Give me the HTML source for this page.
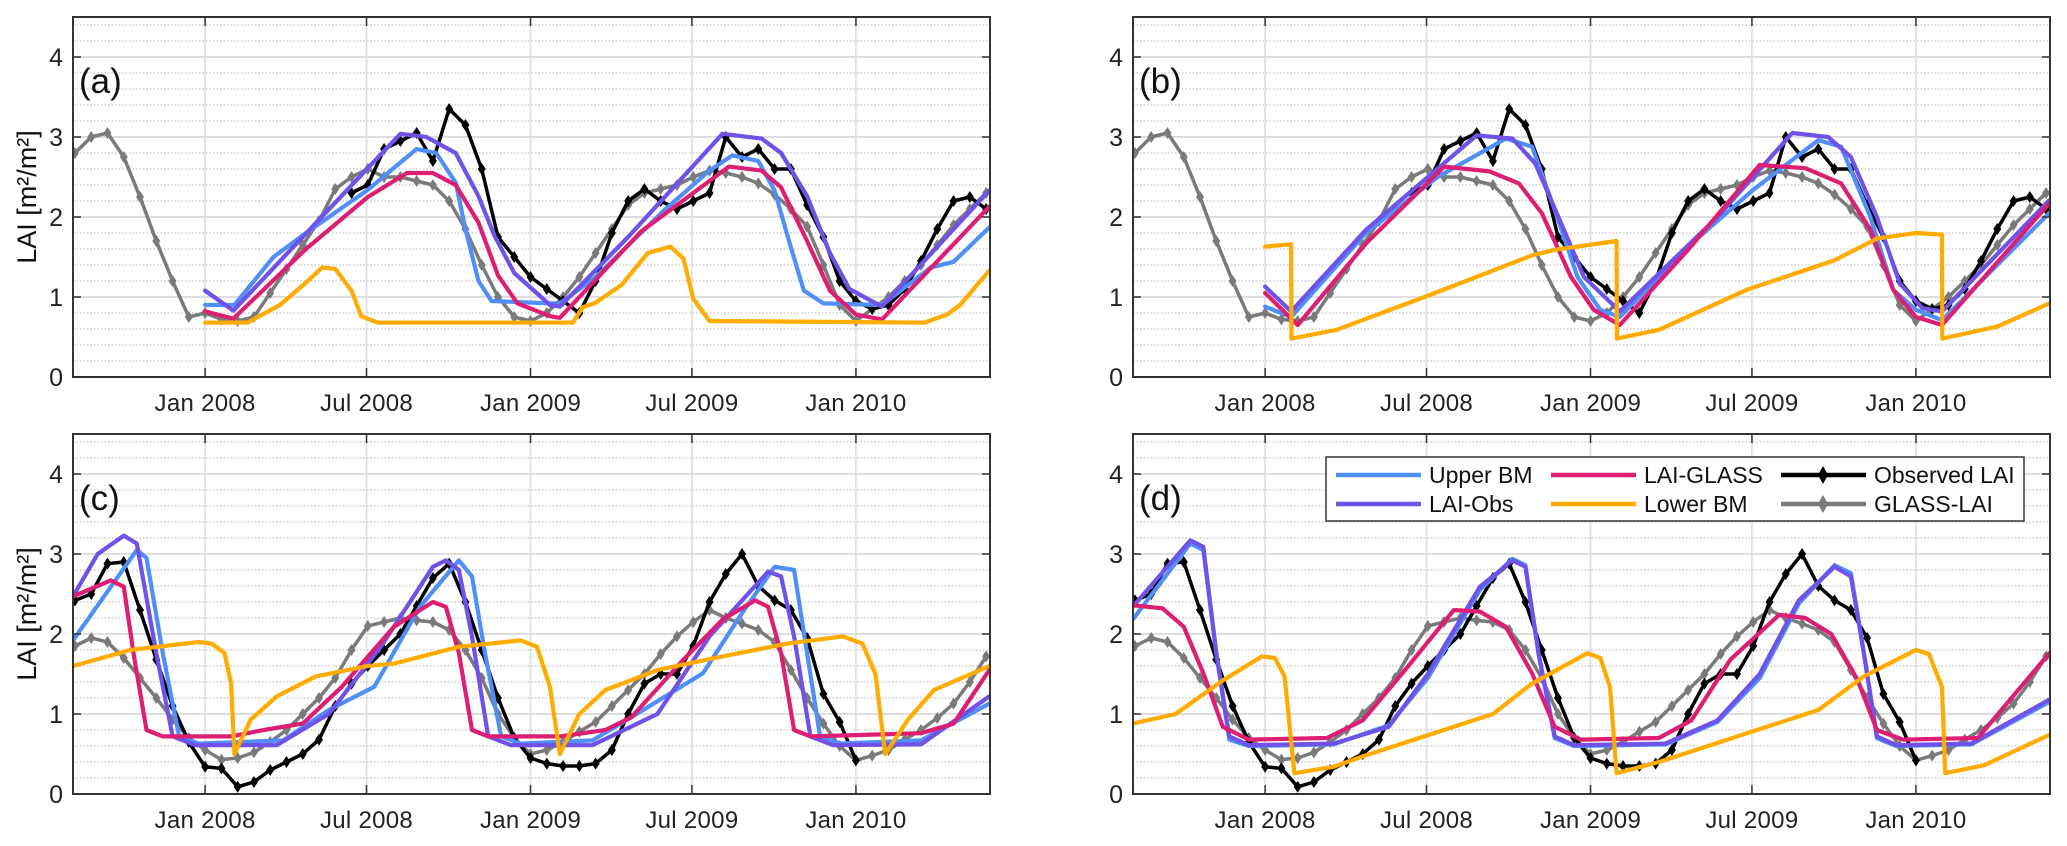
<!DOCTYPE html>
<html><head><meta charset="utf-8"><style>
html,body{margin:0;padding:0;background:#fff;}
svg{display:block;font-family:"Liberation Sans",Arial,sans-serif;}
</style></head><body>
<svg id="fig" width="2067" height="846" viewBox="0 0 2067 846" xmlns="http://www.w3.org/2000/svg"></svg>
<script>
// ---------- shared data ----------
const yTicks = [0,1,2,3,4];
const xTickDates = [2008.0, 2008.496, 2009.0, 2009.496, 2010.0];
const xTickLabels = ["Jan 2008","Jul 2008","Jan 2009","Jul 2009","Jan 2010"];
const panelLabels = ["(a)","(b)","(c)","(d)"];

// GLASS-LAI (site 1, panels a,b)
const glassTimesAB = [2007.60,2007.65,2007.70,2007.75,2007.80,2007.85,2007.90,2007.95,2008.00,2008.05,2008.10,2008.15,2008.20,2008.25,2008.30,2008.35,2008.40,2008.45,2008.50,2008.55,2008.60,2008.65,2008.70,2008.75,2008.80,2008.85,2008.90,2008.95,2009.00,2009.05,2009.10,2009.15,2009.20,2009.25,2009.30,2009.35,2009.40,2009.45,2009.50,2009.55,2009.60,2009.65,2009.70,2009.75,2009.80,2009.85,2009.90,2009.95,2010.00,2010.05,2010.10,2010.15,2010.20,2010.25,2010.30,2010.35,2010.40];
const glassAB = [2.8,3.0,3.05,2.75,2.25,1.7,1.2,0.75,0.8,0.72,0.7,0.75,1.05,1.35,1.65,1.95,2.35,2.5,2.6,2.5,2.5,2.45,2.4,2.2,1.85,1.4,1.0,0.75,0.7,0.8,1.0,1.25,1.55,1.85,2.15,2.3,2.35,2.4,2.5,2.58,2.55,2.5,2.42,2.28,2.1,1.88,1.4,0.9,0.7,0.85,1.0,1.2,1.4,1.65,1.9,2.1,2.3];
// Observed LAI (site 1)
const obsTimesAB = [2008.45,2008.50,2008.55,2008.60,2008.65,2008.70,2008.75,2008.80,2008.85,2008.90,2008.95,2009.00,2009.05,2009.10,2009.15,2009.20,2009.25,2009.30,2009.35,2009.40,2009.45,2009.50,2009.55,2009.60,2009.65,2009.70,2009.75,2009.80,2009.85,2009.90,2009.95,2010.00,2010.05,2010.10,2010.15,2010.20,2010.25,2010.30,2010.35,2010.40];
const obsAB = [2.3,2.4,2.85,2.95,3.05,2.7,3.35,3.15,2.6,1.75,1.5,1.25,1.1,0.95,0.8,1.2,1.8,2.2,2.35,2.2,2.1,2.2,2.3,3.0,2.75,2.85,2.6,2.6,2.15,1.75,1.2,0.95,0.85,0.9,1.1,1.45,1.85,2.2,2.25,2.1];
// GLASS-LAI (site 2, panels c,d)
const glassTimesCD = glassTimesAB;
const glassCD = [1.85,1.95,1.9,1.7,1.45,1.2,0.93,0.7,0.55,0.43,0.45,0.52,0.65,0.8,1.0,1.2,1.45,1.8,2.1,2.15,2.2,2.17,2.15,2.05,1.8,1.45,1.0,0.7,0.5,0.55,0.65,0.78,0.9,1.1,1.3,1.5,1.75,1.97,2.15,2.3,2.2,2.13,2.05,1.9,1.55,1.2,0.88,0.6,0.42,0.48,0.55,0.68,0.8,0.95,1.13,1.4,1.72];
const obsTimesCD = [2007.60,2007.65,2007.70,2007.75,2007.80,2007.85,2007.90,2007.95,2008.00,2008.05,2008.10,2008.15,2008.20,2008.25,2008.30,2008.35,2008.40,2008.45,2008.50,2008.55,2008.60,2008.65,2008.70,2008.75,2008.80,2008.85,2008.90,2008.95,2009.00,2009.05,2009.10,2009.15,2009.20,2009.25,2009.30,2009.35,2009.40,2009.45,2009.50,2009.55,2009.60,2009.65,2009.70,2009.75,2009.80,2009.85,2009.90,2009.95,2010.00];
const obsCD = [2.42,2.5,2.88,2.9,2.3,1.68,1.1,0.65,0.34,0.32,0.09,0.15,0.3,0.4,0.5,0.68,1.1,1.38,1.6,1.8,2.0,2.35,2.7,2.88,2.4,1.8,1.2,0.7,0.45,0.38,0.35,0.35,0.38,0.55,1.0,1.38,1.5,1.5,1.85,2.4,2.75,3.0,2.6,2.42,2.3,1.95,1.25,0.9,0.42];

// Panel (a) model runs
const upperTimesA = [2008.0,2008.09,2008.21,2008.31,2008.5,2008.65,2008.71,2008.77,2008.8,2008.84,2008.88,2009.06,2009.09,2009.2,2009.41,2009.55,2009.62,2009.7,2009.75,2009.8,2009.84,2009.9,2010.08,2010.23,2010.3,2010.41];
const upperA = [0.9,0.9,1.5,1.8,2.34,2.85,2.8,2.43,1.85,1.2,0.95,0.92,0.92,1.25,2.08,2.58,2.77,2.7,2.33,1.62,1.08,0.92,0.9,1.37,1.44,1.87];
const laiObsTimesA = [2008.0,2008.087,2008.3,2008.6,2008.68,2008.77,2008.84,2008.89,2008.95,2009.06,2009.09,2009.3,2009.59,2009.71,2009.77,2009.85,2009.92,2009.98,2010.08,2010.41];
const laiObsA = [1.08,0.83,1.75,3.04,3.0,2.8,2.26,1.76,1.3,0.9,0.88,1.75,3.04,2.98,2.8,2.26,1.55,1.1,0.88,2.33];
const laiGlassTimesA = [2008.0,2008.087,2008.31,2008.5,2008.62,2008.7,2008.77,2008.84,2008.9,2008.96,2009.06,2009.09,2009.34,2009.61,2009.71,2009.77,2009.85,2009.92,2010.0,2010.08,2010.41];
const laiGlassA = [0.82,0.73,1.6,2.25,2.55,2.55,2.4,1.93,1.27,0.92,0.76,0.74,1.82,2.63,2.58,2.37,1.7,1.08,0.78,0.72,2.13];
const lowerTimesA = [2008.0,2008.13,2008.23,2008.31,2008.36,2008.4,2008.45,2008.48,2008.53,2009.13,2009.16,2009.2,2009.28,2009.36,2009.43,2009.47,2009.5,2009.55,2010.21,2010.28,2010.32,2010.41];
const lowerA = [0.68,0.68,0.9,1.18,1.37,1.35,1.08,0.76,0.68,0.68,0.87,0.93,1.15,1.55,1.63,1.48,0.98,0.7,0.68,0.78,0.9,1.33];

// Panel (b)
const upperTimesB = [2008.0,2008.08,2008.31,2008.53,2008.74,2008.82,2008.89,2008.96,2009.03,2009.09,2009.3,2009.5,2009.7,2009.77,2009.86,2009.93,2010.0,2010.08,2010.41];
const upperB = [0.88,0.75,1.8,2.5,2.98,2.88,2.09,1.25,0.84,0.75,1.63,2.34,2.96,2.88,2.0,1.09,0.84,0.71,2.05];
const laiObsTimesB = [2008.0,2008.08,2008.31,2008.65,2008.76,2008.83,2008.91,2008.98,2009.09,2009.39,2009.62,2009.73,2009.8,2009.88,2009.95,2010.02,2010.08,2010.41];
const laiObsB = [1.13,0.82,1.84,3.02,2.98,2.67,1.92,1.25,0.82,2.0,3.05,3.0,2.75,2.0,1.17,0.86,0.82,2.21];
const laiGlassTimesB = [2008.0,2008.1,2008.31,2008.55,2008.69,2008.78,2008.85,2008.94,2009.01,2009.09,2009.3,2009.52,2009.66,2009.77,2009.86,2009.93,2010.0,2010.08,2010.41];
const laiGlassB = [1.05,0.65,1.67,2.63,2.57,2.42,2.05,1.25,0.84,0.65,1.59,2.65,2.61,2.42,1.84,1.09,0.75,0.65,2.17];
const lowerTimesB = [2008.0,2008.08,2008.081,2008.22,2008.49,2008.82,2008.89,2009.08,2009.081,2009.21,2009.48,2009.75,2009.88,2010.0,2010.08,2010.081,2010.25,2010.41];
const lowerB = [1.63,1.66,0.48,0.59,1.0,1.52,1.59,1.7,0.48,0.59,1.09,1.46,1.73,1.8,1.78,0.48,0.63,0.92];

// Panel (c)
const upperTimesC = [2007.594,2007.79,2007.82,2007.87,2007.92,2007.98,2008.24,2008.38,2008.52,2008.66,2008.78,2008.82,2008.86,2008.91,2008.97,2009.19,2009.31,2009.53,2009.65,2009.75,2009.81,2009.85,2009.89,2009.95,2010.2,2010.41];
const upperC = [1.92,3.05,2.95,1.76,0.72,0.63,0.67,1.05,1.34,2.34,2.92,2.72,1.76,0.72,0.63,0.67,0.96,1.51,2.26,2.84,2.8,1.76,0.72,0.63,0.67,1.13];
const laiObsTimesC = [2007.594,2007.67,2007.75,2007.79,2007.85,2007.9,2007.97,2008.22,2008.38,2008.54,2008.7,2008.74,2008.78,2008.82,2008.87,2008.94,2009.19,2009.39,2009.55,2009.73,2009.77,2009.81,2009.86,2009.93,2010.2,2010.41];
const laiObsC = [2.47,3.0,3.23,3.13,1.76,0.72,0.61,0.61,1.0,1.84,2.84,2.92,2.8,1.97,0.72,0.61,0.61,1.0,1.97,2.78,2.72,1.97,0.72,0.61,0.62,1.22];
const laiGlassTimesC = [2007.594,2007.71,2007.75,2007.78,2007.82,2007.87,2008.08,2008.18,2008.3,2008.42,2008.58,2008.7,2008.74,2008.78,2008.82,2008.87,2009.09,2009.23,2009.31,2009.47,2009.59,2009.69,2009.73,2009.77,2009.81,2009.86,2010.2,2010.3,2010.41];
const laiGlassC = [2.47,2.67,2.59,1.76,0.8,0.72,0.72,0.8,0.88,1.34,2.09,2.4,2.34,1.76,0.8,0.72,0.72,0.8,0.96,1.68,2.18,2.42,2.34,1.76,0.8,0.72,0.76,0.88,1.55];
const lowerTimesC = [2007.594,2007.77,2007.98,2008.02,2008.06,2008.08,2008.09,2008.14,2008.22,2008.34,2008.5,2008.58,2008.78,2008.97,2009.02,2009.06,2009.09,2009.15,2009.23,2009.39,2009.59,2009.79,2009.96,2010.02,2010.06,2010.09,2010.16,2010.24,2010.41];
const lowerC = [1.6,1.8,1.9,1.88,1.76,1.38,0.5,0.93,1.22,1.47,1.6,1.63,1.84,1.92,1.84,1.34,0.5,1.0,1.3,1.55,1.72,1.88,1.97,1.88,1.5,0.5,0.93,1.3,1.6];

// Panel (d)
const upperTimesD = [2007.593,2007.77,2007.81,2007.85,2007.89,2007.95,2008.21,2008.38,2008.5,2008.66,2008.76,2008.8,2008.84,2008.89,2008.95,2009.23,2009.39,2009.52,2009.64,2009.75,2009.8,2009.84,2009.88,2009.94,2010.17,2010.41];
const upperD = [2.18,3.13,3.05,1.76,0.68,0.6,0.62,0.86,1.45,2.55,2.94,2.86,1.76,0.7,0.6,0.62,0.9,1.45,2.38,2.86,2.76,1.76,0.7,0.6,0.62,1.15];
const laiObsTimesD = upperTimesD;
const laiObsD = [2.34,3.17,3.09,1.76,0.72,0.61,0.63,0.84,1.5,2.59,2.92,2.84,1.76,0.72,0.61,0.63,0.92,1.5,2.42,2.84,2.72,1.76,0.72,0.61,0.63,1.18];
const laiGlassTimesD = [2007.593,2007.685,2007.75,2007.81,2007.87,2007.95,2008.19,2008.3,2008.42,2008.58,2008.66,2008.74,2008.82,2008.89,2008.97,2009.21,2009.31,2009.43,2009.58,2009.66,2009.74,2009.82,2009.88,2009.96,2010.19,2010.41];
const laiGlassD = [2.36,2.32,2.09,1.51,0.84,0.68,0.7,0.92,1.5,2.3,2.28,2.09,1.51,0.84,0.68,0.7,0.92,1.68,2.24,2.2,2.0,1.43,0.8,0.68,0.7,1.76];
const lowerTimesD = [2007.593,2007.725,2007.87,2007.99,2008.03,2008.06,2008.09,2008.21,2008.3,2008.7,2008.82,2008.99,2009.03,2009.06,2009.08,2009.21,2009.7,2009.84,2010.0,2010.04,2010.08,2010.09,2010.21,2010.41];
const lowerD = [0.88,1.0,1.42,1.72,1.7,1.47,0.26,0.34,0.47,1.0,1.38,1.76,1.7,1.34,0.26,0.4,1.05,1.47,1.8,1.75,1.34,0.26,0.36,0.74];

// ---------- rendering ----------
const NS = "http://www.w3.org/2000/svg";
const svg = document.getElementById("fig");
const T0 = 2007.594, T1 = 2010.412, W = 917, YMAX = 4.5, PXU = 80;
const COL = {upper:"#4f8ff7", obs:"#7152e8", glass:"#dc1f73", lower:"#ffab00", observed:"#000000", glassLai:"#7a7a7a"};

function mk(tag, attrs, parent){
  const e = document.createElementNS(NS, tag);
  for (const k in attrs) e.setAttribute(k, attrs[k]);
  (parent||svg).appendChild(e);
  return e;
}

const panels = [
  {left:73, y0:377, label:panelLabels[0], ytitle:true,
   gT:glassTimesAB, gV:glassAB, oT:obsTimesAB, oV:obsAB,
   series:[[upperTimesA,upperA,"upper"],[laiObsTimesA,laiObsA,"obs"],[laiGlassTimesA,laiGlassA,"glass"],[lowerTimesA,lowerA,"lower"]]},
  {left:1133, y0:377, label:panelLabels[1], ytitle:false,
   gT:glassTimesAB, gV:glassAB, oT:obsTimesAB, oV:obsAB,
   series:[[upperTimesB,upperB,"upper"],[laiObsTimesB,laiObsB,"obs"],[laiGlassTimesB,laiGlassB,"glass"],[lowerTimesB,lowerB,"lower"]]},
  {left:73, y0:794, label:panelLabels[2], ytitle:true,
   gT:glassTimesCD, gV:glassCD, oT:obsTimesCD, oV:obsCD,
   series:[[upperTimesC,upperC,"upper"],[laiObsTimesC,laiObsC,"obs"],[laiGlassTimesC,laiGlassC,"glass"],[lowerTimesC,lowerC,"lower"]]},
  {left:1133, y0:794, label:panelLabels[3], ytitle:false, legend:true,
   gT:glassTimesCD, gV:glassCD, oT:obsTimesCD, oV:obsCD,
   series:[[upperTimesD,upperD,"upper"],[laiObsTimesD,laiObsD,"obs"],[laiGlassTimesD,laiGlassD,"glass"],[lowerTimesD,lowerD,"lower"]]}
];

panels.forEach((p, pi) => {
  const xs = t => p.left + (t - T0) / (T1 - T0) * W;
  const ys = v => p.y0 - v * PXU;
  const top = ys(YMAX), right = p.left + W;
  const g = mk("g", {});
  
  
  const clipId = "clip" + pi;
  const cp = mk("clipPath", {id:clipId}, g);
  mk("rect", {x:p.left, y:top, width:W, height:p.y0-top}, cp);

  for (let k = 1; k <= 22; k++) {
    if (k % 5 === 0) continue;
    const y = ys(k * 0.2);
    const l = mk("line", {x1:p.left, x2:right, y1:y, y2:y, stroke:"#c4c4c4", "stroke-width":1.2, "stroke-dasharray":"1.5 2"}, g);
    
    
  }
  yTicks.forEach(v => {
    if (v === 0) return;
    const y = ys(v);
    const l = mk("line", {x1:p.left, x2:right, y1:y, y2:y, stroke:"#dedede", "stroke-width":2}, g);
    
    
  });
  xTickDates.forEach(t => {
    const x = xs(t);
    const l = mk("line", {x1:x, x2:x, y1:top, y2:p.y0, stroke:"#dedede", "stroke-width":1.6}, g);
    
    
  });

  const plot = mk("g", {"clip-path":"url(#"+clipId+")"}, g);
  
  

  function line(T, V, color, w, name){
    const pts = T.map((t,i) => xs(t).toFixed(1) + "," + ys(V[i]).toFixed(1)).join(" ");
    const pl = mk("polyline", {points:pts, fill:"none", stroke:color, "stroke-width":w, "stroke-linejoin":"round", "stroke-linecap":"round"}, plot);
    
    
  }
  function markers(T, V, color, name){
    T.forEach((t,i) => {
      const x = xs(t), y = ys(V[i]);
      const d = mk("polygon", {points:`${x},${y-6} ${x+4},${y} ${x},${y+6} ${x-4},${y}`, fill:color}, plot);
      
      
    });
  }
  line(p.gT, p.gV, COL.glassLai, 3.5, "glass-lai-line");
  markers(p.gT, p.gV, COL.glassLai, "glass-lai-marker");
  line(p.oT, p.oV, COL.observed, 3.5, "observed-lai-line");
  markers(p.oT, p.oV, COL.observed, "observed-lai-marker");
  p.series.forEach(s => {
    line(s[0], s[1], COL[s[2]], 4.2, s[2] + "-line");
  });

  yTicks.forEach(v => {
    const y = ys(v);
    mk("line", {x1:p.left, x2:p.left+8, y1:y, y2:y, stroke:"#333", "stroke-width":1.5}, g);
    mk("line", {x1:right-8, x2:right, y1:y, y2:y, stroke:"#333", "stroke-width":1.5}, g);
    const tx = mk("text", {x:p.left-10, y:y+9, "text-anchor":"end", "font-size":25, fill:"#222"}, g);
    tx.textContent = String(v);
    
    
  });
  xTickDates.forEach((t,i) => {
    const x = xs(t);
    mk("line", {x1:x, x2:x, y1:p.y0, y2:p.y0-9, stroke:"#333", "stroke-width":1.5}, g);
    mk("line", {x1:x, x2:x, y1:top, y2:top+9, stroke:"#333", "stroke-width":1.5}, g);
    const tx = mk("text", {x:x, y:p.y0+34, "text-anchor":"middle", "font-size":24, "letter-spacing":"0.3", fill:"#222"}, g);
    tx.textContent = xTickLabels[i];
    
    
  });
  const box = mk("rect", {x:p.left, y:top, width:W, height:p.y0-top, fill:"none", stroke:"#333", "stroke-width":2}, g);
  
  

  const lab = mk("text", {x:p.left+6, y:ys(3.6)+4, "font-size":35, fill:"#111"}, g);
  lab.textContent = p.label;
  
  

  if (p.ytitle) {
    const cy = (top + p.y0) / 2;
    const yt = mk("text", {x:0, y:0, transform:`translate(36,${cy}) rotate(-90)`, "text-anchor":"middle", "font-size":27, fill:"#111"}, g);
    yt.textContent = "LAI [m²/m²]";
    
    
  }

  if (p.legend) {
    const lg = mk("g", {}, g);
    
    
    mk("rect", {x:1326, y:457, width:698, height:64, fill:"#fff", stroke:"#333", "stroke-width":1.5}, lg);
    const entries = [
      ["Upper BM", COL.upper, 1336, 475, false],
      ["LAI-Obs", COL.obs, 1336, 504, false],
      ["LAI-GLASS", COL.glass, 1551, 475, false],
      ["Lower BM", COL.lower, 1551, 504, false],
      ["Observed LAI", COL.observed, 1781, 475, true],
      ["GLASS-LAI", COL.glassLai, 1781, 504, true]
    ];
    entries.forEach(e => {
      const eg = mk("g", {}, lg);
      
      
      mk("line", {x1:e[2], x2:e[2]+85, y1:e[3], y2:e[3], stroke:e[1], "stroke-width":4.5}, eg);
      if (e[4]) {
        const cx = e[2]+42;
        mk("polygon", {points:`${cx},${e[3]-9} ${cx+5},${e[3]} ${cx},${e[3]+9} ${cx-5},${e[3]}`, fill:e[1]}, eg);
      }
      const t = mk("text", {x:e[2]+93, y:e[3]+8, "font-size":23, fill:"#111"}, eg);
      t.textContent = e[0];
    });
  }
});
</script>
</body></html>
